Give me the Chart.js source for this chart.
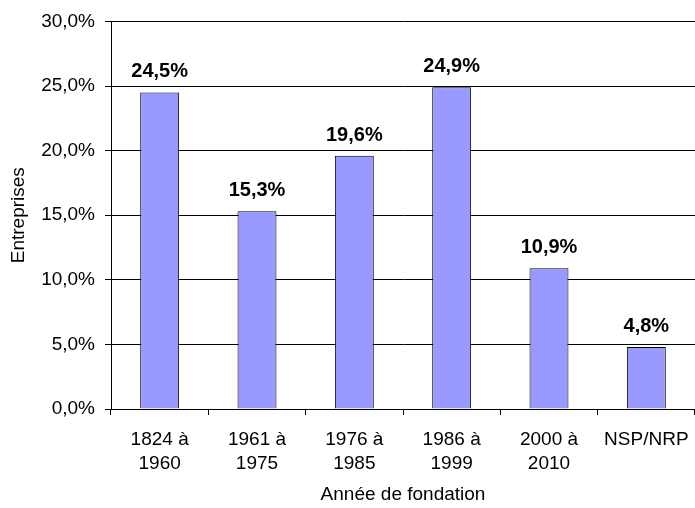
<!DOCTYPE html>
<html>
<head>
<meta charset="utf-8">
<script src="https://cdn.jsdelivr.net/npm/chart.js@4/dist/chart.umd.min.js"></script>
<style>
  html, body { margin: 0; padding: 0; background: #fff; }
  #wrap { width: 695px; height: 508px; }
</style>
</head>
<body>
<div id="wrap"><canvas id="chart" width="695" height="508"></canvas></div>
<script>
const categories = [['1824 à', '1960'], ['1961 à', '1975'], ['1976 à', '1985'], ['1986 à', '1999'], ['2000 à', '2010'], 'NSP/NRP']
const shares = [24.5, 15.3, 19.6, 24.9, 10.9, 4.8]
const yTicks = [0, 5, 10, 15, 20, 25, 30]

const fmt = v => v.toFixed(1).replace('.', ',') + '%'
const FONT = 'Arial, "Liberation Sans", sans-serif'

// bold value labels over each bar
const valueLabels = {
    id: 'valueLabels',
    afterDatasetsDraw(chart) {
        const ctx = chart.ctx
        const meta = chart.getDatasetMeta(0)
        ctx.save()
        ctx.font = 'bold 20px ' + FONT
        ctx.fillStyle = '#000'
        ctx.textAlign = 'center'
        ctx.textBaseline = 'alphabetic'
        meta.data.forEach((bar, i) => {
            ctx.fillText(fmt(shares[i]), bar.x, bar.y - 15)
        })
        ctx.restore()
    }
}

let ctx = document.getElementById('chart').getContext('2d')
new Chart(ctx, {
    type: 'bar',
    data: {
        labels: categories,
        datasets: [{
            data: shares,
            backgroundColor: '#9999ff',
            borderColor: '#000',
            borderWidth: 1,
            barPercentage: 0.4,
            categoryPercentage: 1.0
        }]
    },
    options: {
        responsive: false,
        animation: false,
        layout: { padding: { top: 17, right: 0, left: 0, bottom: 0 } },
        plugins: {
            legend: { display: false },
            tooltip: { enabled: false }
        },
        scales: {
            x: {
                afterFit: s => {
                    s.height = 99
                    s.paddingLeft = 0
                    s.paddingRight = 0
                },
                grid: {
                    offset: true,
                    drawOnChartArea: false,
                    drawTicks: true,
                    tickLength: 6,
                    color: '#000'
                },
                border: { color: '#000', width: 1 },
                ticks: {
                    color: '#000',
                    padding: 12,
                    maxRotation: 0,
                    autoSkip: false,
                    font: { family: FONT, size: 19, lineHeight: 1.3 }
                },
                title: {
                    display: true,
                    text: 'Année de fondation',
                    color: '#000',
                    padding: { top: 0, bottom: 2 },
                    font: { family: FONT, size: 19 }
                }
            },
            y: {
                min: 0,
                max: 30,
                afterFit: s => { s.width = 111 },
                afterBuildTicks: s => { s.ticks = yTicks.map(v => ({ value: v })) },
                grid: {
                    color: '#000',
                    lineWidth: 1,
                    drawTicks: true,
                    tickLength: 6
                },
                border: { color: '#000', width: 1 },
                ticks: {
                    color: '#000',
                    padding: 10,
                    font: { family: FONT, size: 19 },
                    callback: v => fmt(v)
                },
                title: {
                    display: true,
                    text: 'Entreprises',
                    color: '#000',
                    padding: { top: 7, bottom: 0 },
                    font: { family: FONT, size: 19 }
                }
            }
        }
    },
    plugins: [valueLabels]
})
</script>
</body>
</html>
